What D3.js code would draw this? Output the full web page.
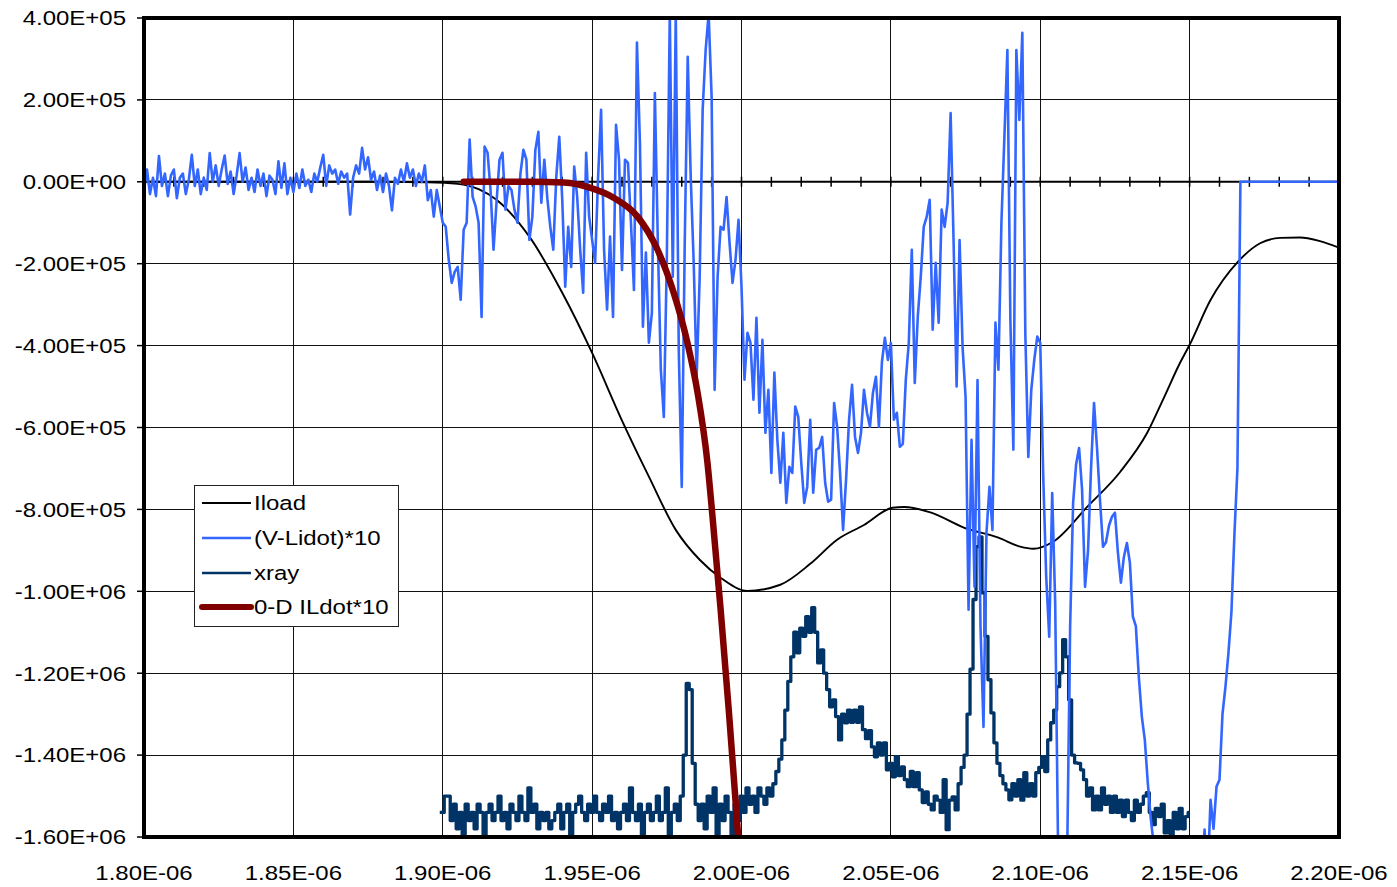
<!DOCTYPE html>
<html>
<head>
<meta charset="utf-8">
<script src="https://cdn.jsdelivr.net/npm/d3@7"></script>
<style>
  html, body { margin: 0; padding: 0; background: #fff; }
  svg { display: block; }
  text { font-family: "Liberation Sans", Arial, sans-serif; font-size: 20.5px; fill: #000; }
</style>
</head>
<body>
<svg id="chart" width="1397" height="887"></svg>
<script>
// ---- axis ticks (time in microseconds, current in kA) ----
const xTicks = [1.80, 1.85, 1.90, 1.95, 2.00, 2.05, 2.10, 2.15, 2.20];
const yTicks = [400, 200, 0, -200, -400, -600, -800, -1000, -1200, -1400, -1600];

// ---- Iload (smooth trace) ----
const iloadT = [1.800, 1.850, 1.880, 1.895, 1.905, 1.912, 1.918, 1.929, 1.940, 1.950, 1.960, 1.969, 1.978, 1.986, 1.993,
  2.002, 2.013, 2.023, 2.032, 2.041, 2.0505, 2.0545, 2.0635, 2.0746, 2.086, 2.0933, 2.0977, 2.1043, 2.1157, 2.1268,
  2.1358, 2.1411, 2.1468, 2.150, 2.1569, 2.1662, 2.1736, 2.1803, 2.187, 2.1936, 2.200];
const iloadV = [0, 0, 0, -1, -5, -18, -44, -134, -271, -418, -583, -720, -850, -923, -967,
  -999, -984, -933, -874, -838, -796, -794, -808, -845, -869, -891, -896, -879, -794, -708,
  -613, -532, -442, -398, -290, -195, -150, -137, -136, -145, -161];

// ---- 0-D ILdot*10 ----
const ildotT = [1.907, 1.930, 1.9405, 1.9495, 1.9572, 1.9652, 1.9719, 1.9773, 1.9819, 1.9853, 1.9886, 1.9903, 1.9930, 1.9957, 1.9987, 2.0003];
const ildotV = [0, 0, -2, -15, -39, -85, -166, -271, -393, -515, -686, -818, -1043, -1287, -1580, -1760];

// ---- (V-Lidot)*10, sampled every 1 ns from 1.800 us ----
const vlT0 = 1.800, vlDt = 0.001;
const vlV = [
  -20, 30, -30, 10, -35, 63, -10, 20, -35, 15,
  30, -40, 10, 20, -30, 5, 66, -10, 30, -30,
  10, -20, 70, 0, 40, -10, 30, 64, -5, 25,
  -30, 15, 70, 0, 35, -20, 10, -25, 30, -10,
  20, -35, 15, 5, -30, 50, -15, 45, -30, 10,
  -25, 20, -15, 30, -10, 5, -25, 20, 0, 35,
  66, -10, 40, 20, 30, -5, 25, 10, 20, -80,
  10, 40, 20, 83, 30, 60, 5, 25, -20, 15,
  -25, 20, -10, -70, 10, -5, 30, 0, 45, 10,
  30, -10, 20, 0, 40, -45, -20, -85, -20, -60,
  -100, -110, -190, -247, -220, -208, -288, -117, -100, 103,
  -37, -60, -100, -330, 86, 71, -20, -166, -50, 54,
  71, -68, -10, -20, -68, -100, 20, 78, 54, -142,
  -85, 78, 122, -51, 54, -40, -110, -166, 12, 110,
  -44, -256, -110, -208, 37, -37, -166, -271, 71, -85,
  -142, -198, 12, 176, -166, -312, -134, -330, 139, 54,
  -215, 54, 46, -100, -264, 340, 95, -354, -173, -393,
  -320, 217, -149, -459, -574, -190, 410, -232, 410, -410,
  -745, -149, 305, 12, -198, -476, -232, 176, 322, 410,
  208, -508, -232, -110, -117, -37, -149, -247, -190, -93,
  -256, -483, -369, -393, -532, -332, -564, -386, -613, -508,
  -711, -466, -630, -735, -613, -784, -696, -711, -549, -574,
  -686, -784, -745, -581, -759, -654, -650, -623, -735, -781,
  -776, -540, -598, -711, -850, -728, -581, -496, -623, -662,
  -613, -508, -564, -598, -515, -476, -598, -440, -381, -435,
  -393, -581, -564, -647, -640, -483, -393, -166, -491, -330,
  -232, -110, -85, -44, -361, -198, -344, -68, -110, -51,
  168, -149, -500, -142, -403, -525, -1045, -630, -989, -484,
  -1087, -1331, -857, -745, -850, -344, -459, -100, 110, 322,
  -337, -654, 322, 151, 364, -369, -672, -508, -435, -378,
  -393, -720, -965, -1111, -760, -1028, -1650, -1700, -1700, -1650,
  -1087, -784, -690, -650, -752, -989, -900, -700, -540, -650,
  -777, -891, -880, -840, -818, -808, -906, -979, -916, -882,
  -930, -1062, -1085, -1210, -1306, -1363, -1468, -1555, -1620, -1700,
  -1700, -1700, -1700, -1700, -1700, -1700, -1700, -1700, -1700, -1700,
  -1700, -1700, -1700, -1700, -1700, -1582, -1700, -1509, -1580, -1477,
  -1460, -1300, -1233, -1150, -1050, -860, -700, 0, 0, 0,
  0, 0, 0, 0, 0, 0, 0, 0, 0, 0,
  0, 0, 0, 0, 0, 0, 0, 0, 0, 0,
  0, 0, 0, 0, 0, 0, 0, 0, 0, 0,
  0
];

// ---- xray, sampled every 1 ns from 1.899 us ----
const xrT0 = 1.899, xrDt = 0.001;
const xrV = [
  -1540,
  -1540, -1500, -1500, -1560, -1520, -1580, -1540, -1600, -1520, -1560,
  -1540, -1580, -1520, -1540, -1600, -1540, -1520, -1560, -1540, -1500,
  -1560, -1540, -1580, -1520, -1540, -1560, -1500, -1540, -1560, -1480,
  -1540, -1520, -1580, -1540, -1560, -1540, -1580, -1560, -1540, -1520,
  -1580, -1540, -1520, -1600, -1540, -1520, -1500, -1540, -1560, -1520,
  -1540, -1500, -1540, -1560, -1520, -1540, -1500, -1560, -1540, -1580,
  -1540, -1520, -1560, -1480, -1540, -1560, -1520, -1600, -1540, -1520,
  -1560, -1540, -1500, -1560, -1540, -1480, -1600, -1540, -1520, -1560,
  -1500, -1400, -1225, -1240, -1420, -1520, -1560, -1520, -1580, -1500,
  -1540, -1480, -1600, -1520, -1560, -1500, -1540, -1600, -1520, -1560,
  -1500, -1540, -1480, -1520, -1500, -1540, -1480, -1500, -1520, -1480,
  -1500, -1470, -1440, -1410, -1363, -1290, -1220, -1160, -1100, -1150,
  -1090, -1110, -1062, -1100, -1040, -1100, -1175, -1143, -1200, -1240,
  -1282, -1265, -1306, -1363, -1300, -1321, -1290, -1320, -1290, -1320,
  -1282, -1338, -1360, -1340, -1380, -1404, -1370, -1400, -1370, -1436,
  -1420, -1453, -1404, -1450, -1429, -1460, -1477, -1440, -1477, -1443,
  -1485, -1516, -1490, -1520, -1534, -1500, -1510, -1540, -1460, -1582,
  -1510, -1502, -1534, -1470, -1430, -1400, -1300, -1190, -1020, -891,
  -867, -1004, -1110, -1216, -1297, -1370, -1420, -1450, -1470, -1485,
  -1509, -1470, -1500, -1460, -1510, -1443, -1500, -1470, -1500, -1443,
  -1430, -1404, -1440, -1363, -1321, -1290, -1233, -1199, -1118, -1160,
  -1265, -1400, -1419, -1420, -1436, -1460, -1500, -1480, -1534, -1500,
  -1534, -1480, -1520, -1500, -1540, -1500, -1540, -1510, -1550, -1510,
  -1540, -1560, -1510, -1540, -1520, -1500, -1492, -1540, -1570, -1530,
  -1550, -1520, -1590, -1560, -1600, -1540, -1580, -1530, -1580, -1550,
  -1540
];

const seriesNames = ["Iload", "(V-Lidot)*10", "xray", "0-D ILdot*10"];
const seriesColors = ["#000000", "#3366ff", "#003366", "#800000"];
const seriesWidths = [1.9, 2.6, 3.3, 6.5];

// Excel-style scientific label, e.g. -1.00E+06
function sci(v) {
  const parts = v.toExponential(2).split("e");
  const sign = parts[1][0] === "-" ? "-" : "+";
  const exp = parts[1].replace(/^[+-]/, "").padStart(2, "0");
  return parts[0] + "E" + sign + exp;
}

const svg = d3.select("#chart");
const L = 144, R = 1339, T = 18, B = 837;
const x = d3.scaleLinear().domain([1.80, 2.20]).range([L, R]);
const y = d3.scaleLinear().domain([-1600, 400]).range([B, T]);
const sx = 1.17; // horizontal stretch of the label glyphs

svg.append("rect").attr("width", 1397).attr("height", 887).attr("fill", "#fff");

svg.append("defs").append("clipPath").attr("id", "plotClip")
  .append("rect").attr("x", L).attr("y", T).attr("width", R - L).attr("height", B - T);

// gridlines
const grid = svg.append("g").attr("stroke", "#111").attr("stroke-width", 1).attr("shape-rendering", "crispEdges");
grid.selectAll("line.h").data(yTicks).join("line").attr("class", "h")
  .attr("x1", L).attr("x2", R).attr("y1", d => y(d)).attr("y2", d => y(d));
grid.selectAll("line.v").data(xTicks).join("line").attr("class", "v")
  .attr("x1", d => x(d)).attr("x2", d => x(d)).attr("y1", T).attr("y2", B);

// horizontal axis through zero with cross tick marks
const zeroAxis = svg.append("g");
zeroAxis.append("line").attr("x1", L).attr("x2", R).attr("y1", y(0)).attr("y2", y(0))
  .attr("stroke", "#000").attr("stroke-width", 2);
zeroAxis.selectAll("line.t").data(x.ticks(40)).join("line").attr("class", "t")
  .attr("x1", d => x(d)).attr("x2", d => x(d)).attr("y1", y(0) - 5).attr("y2", y(0) + 5)
  .attr("stroke", "#000").attr("stroke-width", 1.5);

// series
const plotG = svg.append("g").attr("clip-path", "url(#plotClip)");
const vlData = vlV.map((v, i) => [vlT0 + i * vlDt, v]);
const xrData = xrV.map((v, i) => [xrT0 + i * xrDt, v]);
const iloadData = iloadT.map((t, i) => [t, iloadV[i]]);
const ildotData = ildotT.map((t, i) => [t, ildotV[i]]);

const lineLinear = d3.line().x(d => x(d[0])).y(d => y(d[1]));
const lineSmooth = d3.line().x(d => x(d[0])).y(d => y(d[1])).curve(d3.curveMonotoneX);
const lineStep = d3.line().x(d => x(d[0])).y(d => y(d[1])).curve(d3.curveStep);

plotG.append("path").datum(xrData).attr("d", lineStep)
  .attr("fill", "none").attr("stroke", seriesColors[2]).attr("stroke-width", seriesWidths[2]).attr("stroke-linejoin", "round");
plotG.append("path").datum(iloadData).attr("d", lineSmooth)
  .attr("fill", "none").attr("stroke", seriesColors[0]).attr("stroke-width", seriesWidths[0]);
plotG.append("path").datum(vlData).attr("d", lineLinear)
  .attr("fill", "none").attr("stroke", seriesColors[1]).attr("stroke-width", seriesWidths[1]).attr("stroke-linejoin", "round");
plotG.append("path").datum(ildotData).attr("d", lineSmooth)
  .attr("fill", "none").attr("stroke", seriesColors[3]).attr("stroke-width", seriesWidths[3]).attr("stroke-linecap", "round");

// plot border
svg.append("rect").attr("x", L).attr("y", T).attr("width", R - L).attr("height", B - T)
  .attr("fill", "none").attr("stroke", "#000").attr("stroke-width", 4);

// y axis outer ticks and labels
const yAx = svg.append("g");
yAx.selectAll("line").data(yTicks).join("line")
  .attr("x1", L - 7).attr("x2", L).attr("y1", d => y(d)).attr("y2", d => y(d))
  .attr("stroke", "#000").attr("stroke-width", 1.5);
yAx.selectAll("text").data(yTicks).join("text")
  .attr("transform", d => `translate(126,${y(d) + 7.3}) scale(${sx},1)`)
  .attr("text-anchor", "end").text(d => sci(d * 1000));

// x labels
svg.append("g").selectAll("text").data(xTicks).join("text")
  .attr("transform", d => `translate(${x(d)},879.5) scale(${sx},1)`)
  .attr("text-anchor", "middle").text(d => sci(d * 1e-6));

// legend
const lg = svg.append("g");
lg.append("rect").attr("x", 194.5).attr("y", 485.5).attr("width", 204).attr("height", 141)
  .attr("fill", "#fff").attr("stroke", "#222").attr("stroke-width", 1);
const rowsY = [503, 538, 573, 607];
seriesNames.forEach((name, k) => {
  lg.append("line").attr("x1", 202).attr("x2", 251).attr("y1", rowsY[k]).attr("y2", rowsY[k])
    .attr("stroke", seriesColors[k]).attr("stroke-width", k === 3 ? 6 : (k === 0 ? 2 : 2.4))
    .attr("stroke-linecap", k === 3 ? "round" : "butt");
  lg.append("text").attr("transform", `translate(254,${rowsY[k] + 7.3}) scale(${sx},1)`).text(name);
});
</script>
</body>
</html>
